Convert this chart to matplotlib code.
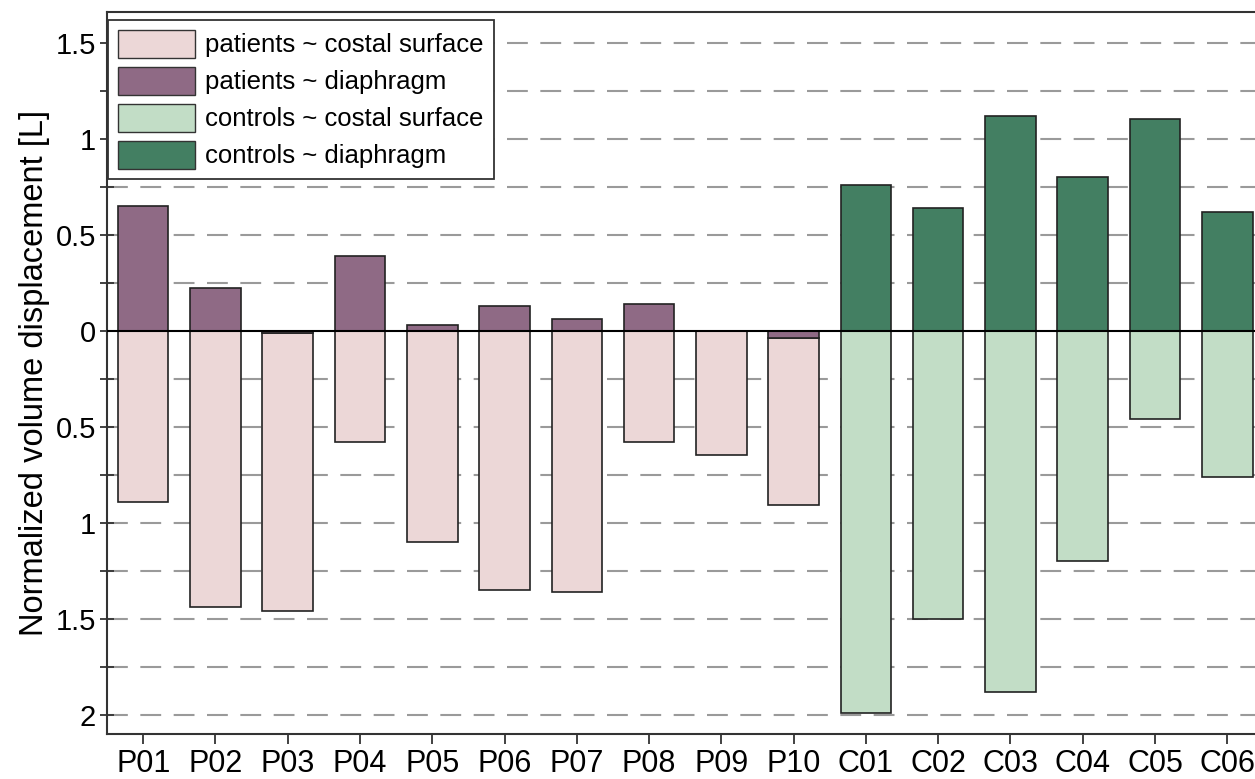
import numpy as np
import matplotlib.pyplot as plt
from matplotlib.ticker import MultipleLocator, FuncFormatter
from matplotlib.patches import Patch

plt.rcParams['font.family'] = ['Liberation Sans', 'DejaVu Sans']

subjects = ['P01', 'P02', 'P03', 'P04', 'P05', 'P06', 'P07', 'P08', 'P09', 'P10',
            'C01', 'C02', 'C03', 'C04', 'C05', 'C06']
# diaphragm contribution (plotted upwards)
diaphragm = [0.65, 0.22, -0.01, 0.39, 0.03, 0.13, 0.06, 0.14, 0.0, -0.04,
             0.76, 0.64, 1.12, 0.80, 1.10, 0.62]
# costal surface contribution (plotted downwards)
costal = [0.89, 1.44, 1.45, 0.58, 1.10, 1.35, 1.36, 0.58, 0.65, 0.87,
          1.99, 1.50, 1.88, 1.20, 0.46, 0.76]
is_patient = [s.startswith('P') for s in subjects]

c_pat_cost = '#ecd7d7'
c_pat_dia = '#8f6a85'
c_con_cost = '#c2ddc6'
c_con_dia = '#437f62'

fig = plt.figure(figsize=(12.55, 7.79), dpi=100)
ax = fig.add_axes([0.0853, 0.0578, 0.9214, 0.927])

x = np.arange(len(subjects))
dia = np.array(diaphragm)
cost = np.array(costal)
dia_col = [c_pat_dia if p else c_con_dia for p in is_patient]
cost_col = [c_pat_cost if p else c_con_cost for p in is_patient]

for y in np.arange(-2.0, 1.51, 0.25):
    if abs(y) > 1e-9:
        ax.axhline(y, color='#9a9a9a', lw=1.5, dashes=(10, 6), zorder=0)

cost_bottom = np.minimum(dia, 0)
ax.bar(x, -cost, 0.7, bottom=cost_bottom, color=cost_col, edgecolor='#222222',
       linewidth=1.2, zorder=2)
ax.bar(x, dia, 0.7, color=dia_col, edgecolor='#222222', linewidth=1.2, zorder=2)
ax.axhline(0, color='black', lw=1.5, zorder=3)

ax.set_xlim(-0.5, 15.5)
ax.set_ylim(-2.1, 1.66)
ax.set_xticks(x)
ax.set_xticklabels(subjects, fontsize=22)
ax.yaxis.set_major_locator(MultipleLocator(0.5))
ax.yaxis.set_minor_locator(MultipleLocator(0.25))
ax.yaxis.set_major_formatter(FuncFormatter(lambda v, p: f"{abs(v):g}"))
ax.tick_params(axis='y', which='both', labelsize=21, direction='inout',
               length=10, width=1.3, color='#333333', pad=3)
ax.tick_params(axis='x', length=7, width=1.3, color='#333333', pad=4)
ax.set_ylabel('Normalized volume displacement [L]', fontsize=23.5, labelpad=4)

for side in ['left', 'bottom', 'top', 'right']:
    ax.spines[side].set_color('#333333')
    ax.spines[side].set_linewidth(1.5)

handles = [Patch(facecolor=c_pat_cost, edgecolor='#333333'),
           Patch(facecolor=c_pat_dia, edgecolor='#333333'),
           Patch(facecolor=c_con_cost, edgecolor='#333333'),
           Patch(facecolor=c_con_dia, edgecolor='#333333')]
labels = ['patients ~ costal surface', 'patients ~ diaphragm',
          'controls ~ costal surface', 'controls ~ diaphragm']
leg = ax.legend(handles, labels, loc='upper left', bbox_to_anchor=(-0.006, 1.0),
                borderaxespad=0.3, fontsize=18.5, fancybox=False, framealpha=1,
                edgecolor='#333333', handlelength=3.0, handleheight=1.3,
                labelspacing=0.35, handletextpad=0.4, borderpad=0.4)
leg.get_frame().set_linewidth(1.3)
leg.set_zorder(5)

fig.savefig('out.png', dpi=100)
